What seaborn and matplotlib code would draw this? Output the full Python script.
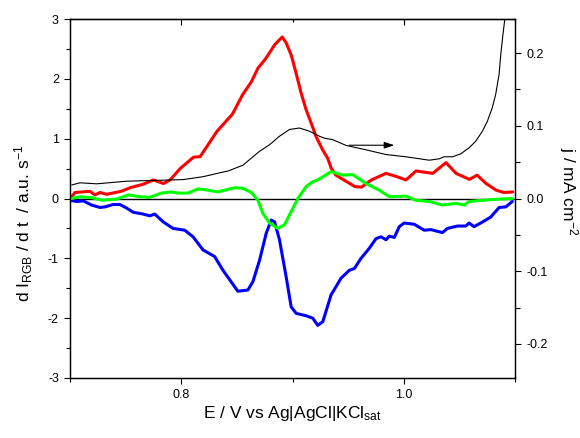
import matplotlib
matplotlib.use('Agg')
import matplotlib.pyplot as plt
import seaborn as sns
import pandas as pd
from matplotlib.ticker import FixedLocator, MultipleLocator

# ---------------- data ----------------
red_E = [0.7015, 0.7045, 0.718, 0.7224, 0.727, 0.733, 0.746, 0.754, 0.766, 0.775,
         0.784, 0.790, 0.799, 0.811, 0.817, 0.832, 0.846, 0.855, 0.863, 0.869,
         0.876, 0.884, 0.8908, 0.8943, 0.8988, 0.9033, 0.9078, 0.9123, 0.9168, 0.9213,
         0.9272, 0.9317, 0.9347, 0.939, 0.956, 0.962, 0.971, 0.984, 0.993, 1.002,
         1.011, 1.026, 1.038, 1.047, 1.059, 1.066, 1.074, 1.083, 1.090, 1.098]
red_v = [0.03, 0.10, 0.12, 0.06, 0.10, 0.07, 0.12, 0.18, 0.24, 0.31,
         0.25, 0.31, 0.50, 0.69, 0.70, 1.12, 1.41, 1.73, 1.95, 2.18,
         2.34, 2.57, 2.70, 2.60, 2.40, 2.09, 1.76, 1.48, 1.26, 1.03,
         0.81, 0.67, 0.51, 0.39, 0.20, 0.19, 0.31, 0.42, 0.37, 0.31,
         0.46, 0.42, 0.60, 0.42, 0.32, 0.39, 0.25, 0.14, 0.10, 0.11]

green_E = [0.7015, 0.709, 0.7209, 0.7284, 0.7419, 0.7523, 0.7628, 0.7717, 0.7822, 0.7912,
           0.7971, 0.8061, 0.8151, 0.824, 0.833, 0.848, 0.8554, 0.863, 0.8689, 0.8734,
           0.8794, 0.8868, 0.8928, 0.8988, 0.9048, 0.9123, 0.9182, 0.9227, 0.9347, 0.9451,
           0.9541, 0.9661, 0.978, 0.987, 1.002, 1.011, 1.0229, 1.0348, 1.0468, 1.0543,
           1.0587, 1.0707, 1.0857, 1.0976]
green_v = [0.0, 0.03, 0.01, -0.03, -0.01, 0.06, 0.03, 0.02, 0.09, 0.11,
           0.09, 0.09, 0.16, 0.14, 0.11, 0.18, 0.17, 0.10, -0.03, -0.25,
           -0.41, -0.50, -0.44, -0.22, 0.0, 0.20, 0.28, 0.31, 0.45, 0.39,
           0.40, 0.25, 0.14, 0.03, 0.04, -0.03, -0.05, -0.11, -0.08, -0.11,
           -0.05, -0.03, -0.01, 0.0]

blue_E = [0.7, 0.706, 0.7119, 0.7195, 0.7269, 0.7314, 0.7388, 0.7448, 0.7509, 0.7568,
          0.7657, 0.7717, 0.7762, 0.7837, 0.7926, 0.8031, 0.8106, 0.8196, 0.83, 0.8375,
          0.8509, 0.8599, 0.8644, 0.8704, 0.8764, 0.8809, 0.8839, 0.8883, 0.8943, 0.8988,
          0.9033, 0.9123, 0.9182, 0.9227, 0.9272, 0.9347, 0.9437, 0.9511, 0.9556, 0.9616,
          0.9691, 0.9751, 0.9796, 0.984, 0.987, 0.9915, 0.996, 1.0004, 1.0094, 1.0184,
          1.0244, 1.0348, 1.0393, 1.0483, 1.0558, 1.0587, 1.0632, 1.0692, 1.0782, 1.0857,
          1.0917, 1.0976]
blue_v = [-0.03, -0.05, -0.04, -0.11, -0.15, -0.14, -0.10, -0.10, -0.16, -0.23,
          -0.26, -0.29, -0.26, -0.39, -0.50, -0.53, -0.64, -0.86, -0.97, -1.20,
          -1.55, -1.53, -1.39, -1.03, -0.58, -0.36, -0.39, -0.69, -1.31, -1.81,
          -1.92, -1.96, -2.00, -2.12, -2.06, -1.61, -1.33, -1.20, -1.17, -1.00,
          -0.83, -0.67, -0.64, -0.69, -0.63, -0.65, -0.47, -0.41, -0.43, -0.53,
          -0.52, -0.57, -0.50, -0.46, -0.46, -0.41, -0.47, -0.41, -0.31, -0.15,
          -0.14, -0.05]

cur_E = [0.7015, 0.709, 0.7239, 0.7509, 0.7747, 0.8016, 0.8196, 0.8345, 0.842, 0.8554,
         0.8704, 0.8794, 0.8883, 0.8973, 0.9063, 0.9152, 0.9242, 0.9287, 0.9361, 0.9482,
         0.9661, 0.984, 1.002, 1.0229, 1.0318, 1.0363, 1.0438, 1.0513, 1.0587, 1.0647,
         1.0707, 1.0751, 1.0796, 1.0826, 1.0857, 1.0872, 1.0892, 1.091]
cur_j = [0.0186, 0.0216, 0.0202, 0.0238, 0.0248, 0.026, 0.030, 0.0353, 0.0378, 0.0458,
         0.065, 0.074, 0.0857, 0.095, 0.097, 0.0926, 0.0857, 0.083, 0.081, 0.073,
         0.067, 0.0605, 0.0574, 0.0527, 0.0546, 0.0574, 0.0574, 0.0615, 0.0697, 0.0788,
         0.0926, 0.106, 0.125, 0.143, 0.171, 0.198, 0.226, 0.249]

x_ticks = [0.8, 1.0]
x_minor = [0.7, 0.9, 1.1]
y_ticks = [-3, -2, -1, 0, 1, 2, 3]
j_ticks = [-0.2, -0.1, 0.0, 0.1, 0.2]

# ---------------- style ----------------
sns.set_style('ticks')
plt.rcParams['font.family'] = ['Liberation Sans', 'DejaVu Sans']
plt.rcParams['mathtext.fontset'] = 'custom'
plt.rcParams['mathtext.rm'] = 'Liberation Sans'
plt.rcParams['mathtext.it'] = 'Liberation Sans'
plt.rcParams['mathtext.default'] = 'regular'
plt.rcParams['axes.unicode_minus'] = False

W, H = 580, 438
fig = plt.figure(figsize=(W / 100, H / 100), dpi=100)
ax = fig.add_axes([70 / W, 1 - 378 / H, 445 / W, 359 / H])

ax.axhline(0, color='black', lw=1.0, zorder=1)

lw = 2.2
sns.lineplot(x=red_E, y=red_v, ax=ax, color='#ff0000', lw=lw, sort=False, estimator=None, zorder=2)
sns.lineplot(x=blue_E, y=blue_v, ax=ax, color='#0000ff', lw=lw, sort=False, estimator=None, zorder=3)
sns.lineplot(x=green_E, y=green_v, ax=ax, color='#00ff00', lw=lw, sort=False, estimator=None, zorder=4)

ax.set_xlim(0.7, 1.1)
ax.set_ylim(-3, 3)
ax.set_xticks(x_ticks)
ax.set_xticklabels(['0.8', '1.0'])
ax.xaxis.set_minor_locator(FixedLocator(x_minor))
ax.set_yticks(y_ticks)
ax.set_yticklabels([str(v) for v in y_ticks])
ax.yaxis.set_minor_locator(MultipleLocator(0.5))

ax.tick_params(axis='both', which='major', direction='out', length=4.5, width=0.8,
               labelsize=9, color='black', labelcolor='black')
ax.tick_params(axis='both', which='minor', direction='out', length=2.6, width=0.8, color='black')
ax.tick_params(axis='x', which='minor', length=3.0)
for s in ax.spines.values():
    s.set_color('black')
    s.set_linewidth(0.9)

sec = ax.secondary_xaxis('top')
sec.set_xticks(x_ticks)
sec.xaxis.set_minor_locator(FixedLocator(x_minor))
sec.tick_params(axis='x', which='major', direction='in', length=4.5, width=0.8, labeltop=False, color='black')
sec.tick_params(axis='x', which='minor', direction='in', length=2.4, width=0.8, color='black')
sec.spines['top'].set_linewidth(0.9)

ax.set_xlabel(r'E / V vs Ag|AgCl|KCl$_{sat}$', fontsize=12.5, color='black', labelpad=2)
ax.set_ylabel(r'd I$_{RGB}$ / d t  / a.u. s$^{-1}$', fontsize=12.5, color='black')
ax.yaxis.set_label_coords(-0.078, 0.43)

ax2 = ax.twinx()
sns.lineplot(x=cur_E, y=cur_j, ax=ax2, color='black', lw=0.8, sort=False, estimator=None)
ax2.set_ylim(-0.247, 0.247)
ax2.set_yticks(j_ticks)
ax2.set_yticklabels(['-0.2', '-0.1', '0.0', '0.1', '0.2'])
ax2.yaxis.set_minor_locator(MultipleLocator(0.05))
ax2.tick_params(axis='y', which='major', direction='out', length=4.2, width=0.8, labelsize=9,
                color='black', labelcolor='black', pad=4)
ax2.tick_params(axis='y', which='minor', direction='out', length=3.5, width=0.8, color='black')
for s in ax2.spines.values():
    s.set_color('black')
    s.set_linewidth(0.9)
ax2.set_ylabel(r'j / mA cm$^{-2}$', fontsize=12.5, rotation=270, va='bottom', color='black')
ax2.yaxis.set_label_coords(1.094, 0.52)

ax2.annotate('', xy=(0.9915, 0.0733), xytext=(0.951, 0.0733),
             arrowprops=dict(arrowstyle='-|>,head_length=0.6,head_width=0.2',
                             color='black', lw=0.8, mutation_scale=10,
                             shrinkA=0, shrinkB=0))

fig.savefig('out.png', dpi=100)
